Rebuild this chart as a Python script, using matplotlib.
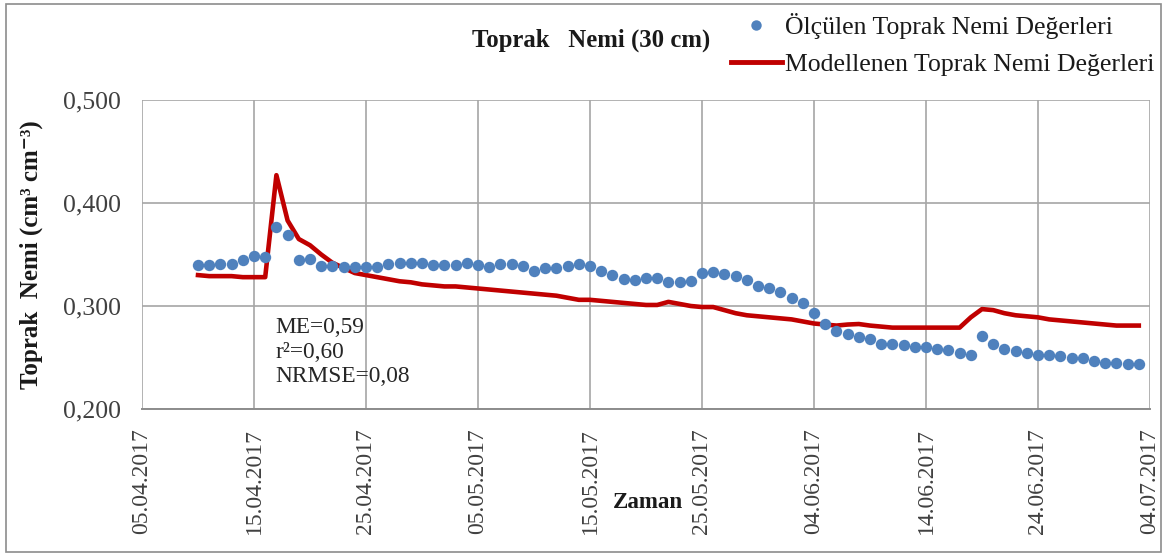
import matplotlib
matplotlib.use("Agg")
import matplotlib.pyplot as plt
from matplotlib.lines import Line2D
from matplotlib.patches import Rectangle
import pandas as pd

# ---- data ----
start_date = "2017-04-10"
measured = [0.340, 0.340, 0.341, 0.341, 0.345, 0.349, 0.348, 0.377, 0.369, 0.345,
            0.346, 0.339, 0.339, 0.338, 0.338, 0.338, 0.338, 0.341, 0.342, 0.342,
            0.342, 0.340, 0.340, 0.340, 0.342, 0.340, 0.338, 0.341, 0.341, 0.339,
            0.334, 0.337, 0.337, 0.339, 0.341, 0.339, 0.334, 0.330, 0.326, 0.325,
            0.327, 0.327, 0.323, 0.323, 0.324, 0.332, 0.333, 0.331, 0.329, 0.325,
            0.319, 0.317, 0.314, 0.308, 0.303, 0.2935, 0.2825, 0.276, 0.273, 0.270,
            0.268, 0.263, 0.263, 0.262, 0.2605, 0.2605, 0.258, 0.2575, 0.254, 0.2525,
            0.271, 0.263, 0.258, 0.2565, 0.254, 0.2525, 0.2525, 0.251, 0.2495, 0.2495,
            0.247, 0.245, 0.2445, 0.244, 0.244]
modelled = [0.330, 0.329, 0.329, 0.329, 0.328, 0.328, 0.328, 0.427, 0.383, 0.365,
            0.359, 0.350, 0.342, 0.337, 0.332, 0.330, 0.328, 0.326, 0.324, 0.323,
            0.321, 0.320, 0.319, 0.319, 0.318, 0.317, 0.316, 0.315, 0.314, 0.313,
            0.312, 0.311, 0.310, 0.308, 0.306, 0.306, 0.305, 0.304, 0.303, 0.302,
            0.301, 0.301, 0.304, 0.302, 0.300, 0.299, 0.299, 0.296, 0.293, 0.291,
            0.290, 0.289, 0.288, 0.287, 0.285, 0.283, 0.282, 0.281, 0.282, 0.2825,
            0.281, 0.280, 0.279, 0.279, 0.279, 0.279, 0.279, 0.279, 0.279, 0.289,
            0.297, 0.296, 0.293, 0.291, 0.290, 0.289, 0.287, 0.286, 0.285, 0.284,
            0.283, 0.282, 0.281, 0.281, 0.281]
tick_dates = ["05.04.2017", "15.04.2017", "25.04.2017", "05.05.2017", "15.05.2017",
              "25.05.2017", "04.06.2017", "14.06.2017", "24.06.2017", "04.07.2017"]
y_ticks = [0.200, 0.300, 0.400, 0.500]
title = "Toprak   Nemi (30 cm)"
label_measured = "Ölçülen Toprak Nemi Değerleri"
label_model = "Modellenen Toprak Nemi Değerleri"
stats_text = "ME=0,59\nr²=0,60\nNRMSE=0,08"

dates = pd.date_range(start_date, periods=len(measured), freq="D")
tick_pos = pd.to_datetime(tick_dates, format="%d.%m.%Y")

BLUE = "#4f81bd"
RED = "#c00000"
GRID = "#a6a6a6"
SERIF = ["Liberation Serif", "DejaVu Serif"]

W, H = 1167, 556
fig = plt.figure(figsize=(W / 100, H / 100), dpi=100)
ax = fig.add_axes([142 / W, 1 - 409 / H, (1150 - 142) / W, 309 / H])

ax.plot(dates, modelled, color=RED, lw=3.3, zorder=2, solid_joinstyle="round")
ax.plot(dates, measured, linestyle="none", marker="o", ms=8.2, color=BLUE,
        markeredgewidth=0, zorder=3)

ax.set_xlim(tick_pos[0], tick_pos[-1])
ax.set_ylim(0.2, 0.5)
ax.set_xticks(tick_pos)
ax.set_xticklabels(tick_dates, rotation=90, family=SERIF, fontsize=17, color="#404040")
ax.set_yticks(y_ticks)
ax.set_yticklabels([f"{v:.3f}".replace(".", ",") for v in y_ticks],
                   family=SERIF, fontsize=18.5, color="#404040")
ax.tick_params(axis="x", length=0, pad=14)
ax.tick_params(axis="y", length=0, pad=15)
ax.grid(True, color=GRID, lw=1.2)
ax.set_axisbelow(True)
for s in ["left", "right", "top"]:
    ax.spines[s].set_visible(False)
ax.spines["bottom"].set_color("#8c8c8c")
ax.spines["bottom"].set_linewidth(1.4)

ax.text((275 - 142) / 1008, (409 - 317) / 309, stats_text, transform=ax.transAxes,
        ha="left", va="top", family=SERIF, fontsize=16.8, color="#262626",
        linespacing=1.22)

fig.text(591 / W, 1 - 40 / H, title, ha="center", va="center", family=SERIF,
         fontsize=17.8, fontweight="bold", color="#1a1a1a")
fig.text(31 / W, 1 - 255 / H, "Toprak  Nemi (cm³ cm⁻³)", rotation=90, ha="center",
         va="center", family=SERIF, fontsize=18, fontweight="bold", color="#1a1a1a")
fig.text(648 / W, 1 - 502 / H, "Zaman", ha="center", va="center", family=SERIF,
         fontsize=16.5, fontweight="bold", color="#1a1a1a")

handles = [Line2D([], [], linestyle="none", marker="o", ms=7.5, color=BLUE, markeredgewidth=0),
           Line2D([], [], color=RED, lw=3.5)]
leg = fig.legend(handles, [label_measured, label_model], loc="upper left",
                 bbox_to_anchor=(728 / W, 1 - 10 / H), frameon=False,
                 prop={"family": SERIF, "size": 18.5}, handlelength=2.0,
                 handletextpad=0.12, labelspacing=0.58, borderpad=0.1,
                 borderaxespad=0)
for t in leg.get_texts():
    t.set_color("#1a1a1a")

fig.add_artist(Rectangle((6 / W, 4 / H), (W - 12) / W, (H - 8) / H, transform=fig.transFigure,
                         fill=False, edgecolor="#8c8c8c", lw=1.2))

fig.savefig("out.png", dpi=100)
